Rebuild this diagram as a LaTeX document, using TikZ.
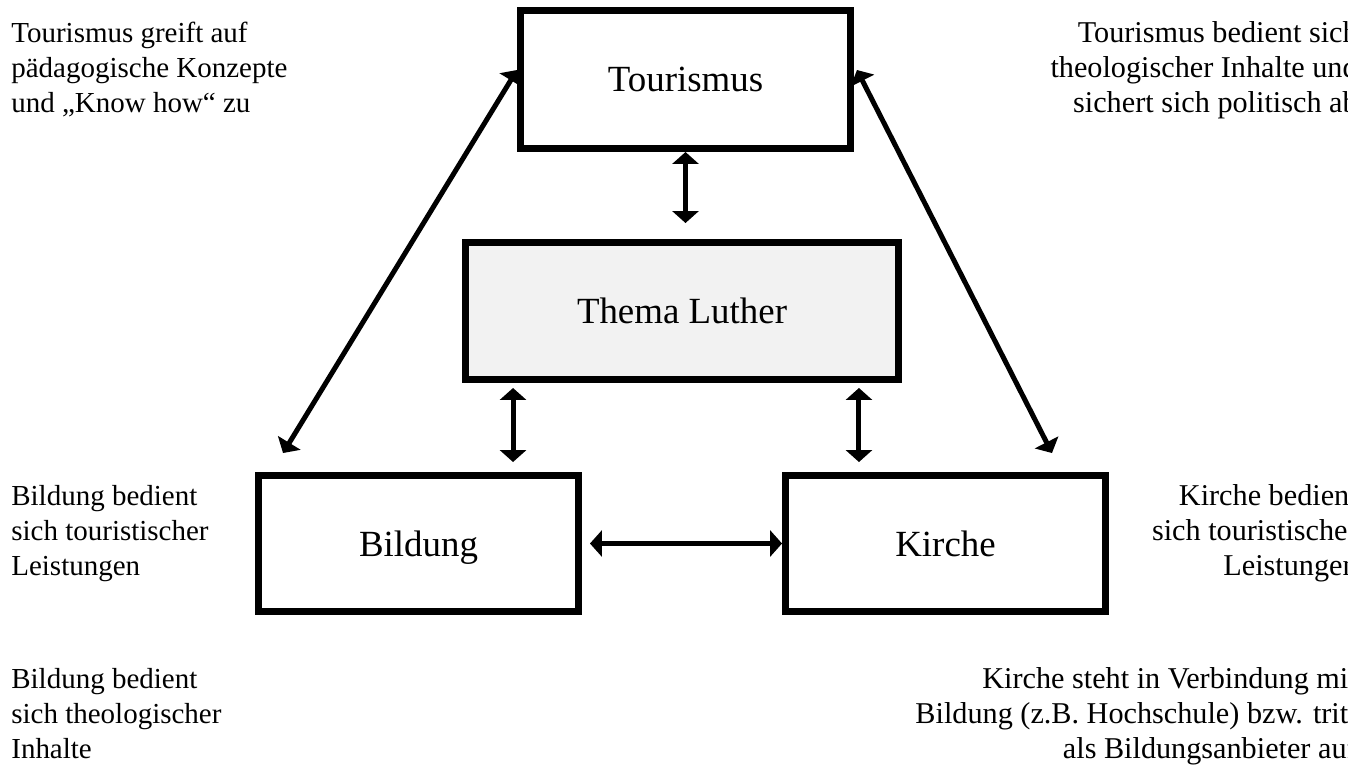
\documentclass[tikz,border=0pt]{standalone}
\usepackage{fontspec}
\setmainfont{Liberation Serif}
\usepackage{tikz}
\usetikzlibrary{arrows.meta,calc,positioning}

\begin{document}
\begin{tikzpicture}[x=0.02cm,y=-0.02cm,
  box/.style={draw,line width=0.14cm,inner sep=0pt,text depth=0pt,font=\fontsize{21}{25}\selectfont},
  note/.style={inner sep=0pt,font=\fontsize{16.5}{19.9}\selectfont},
  noteR/.style={note,align=right,anchor=base east,font=\fontsize{17.2}{19.9}\selectfont},
  link/.style={line width=0.1cm,{Triangle[length=6.8pt,width=14.8pt]}-{Triangle[length=6.8pt,width=14.8pt]}}]
  \useasboundingbox (0,0) rectangle (1348,765);
  \clip (0,0) rectangle (1348,765);
  % the four boxes
  \node[box,minimum width=6.6cm,minimum height=2.76cm] (tour) at (685.5,79.5) {Tourismus};
  \node[box,fill=black!5,minimum width=8.66cm,minimum height=2.74cm] (luther) at (682,311) {Thema Luther};
  \node[box,minimum width=6.4cm,minimum height=2.72cm] (bild) at (418.5,543.5) {Bildung};
  \node[box,minimum width=6.4cm,minimum height=2.72cm] (kirche) at (945.5,543.5) {Kirche};
  % side notes (base = last line)
  \node[note,align=left,anchor=base west] (tourL) at (11,112) {Tourismus greift auf\\pädagogische Konzepte\\und „Know how“ zu};
  \node[noteR] (tourR) at (1358,112) {Tourismus bedient sich\\theologischer Inhalte und\\sichert sich politisch ab};
  \node[note,align=left,anchor=base west] (bildL) at (11,575) {Bildung bedient\\sich touristischer\\Leistungen};
  \node[noteR] (kircheR) at (1358,575) {Kirche bedient\\sich touristischer\\Leistungen};
  \node[note,align=left,anchor=base west] (bildU) at (11,758) {Bildung bedient\\sich theologischer\\Inhalte};
  \node[noteR] (kircheU) at (1357,758) {Kirche steht in Verbindung mit\\Bildung (z.B. Hochschule) bzw. tritt\\als Bildungsanbieter auf};
  % connectors
  \coordinate (lutherL) at ([xshift=1.02cm]luther.south west);
  \coordinate (lutherR) at ([xshift=-0.86cm]luther.south east);
  \draw[link,shorten >=0.32cm] (tour.south) -- (tour.south |- luther.north);
  \draw[link,shorten <=0.1cm,shorten >=0.2cm] (lutherL) -- (lutherL |- bild.north);
  \draw[link,shorten <=0.1cm,shorten >=0.2cm] (lutherR) -- (lutherR |- kirche.north);
  \draw[link,shorten <=0.16cm] (bild.east) -- (kirche.west);
  \draw[link] ([yshift=0.19cm]tour.west) -- ([shift={(0.56cm,0.38cm)}]bild.north west);
  \draw[link] ([shift={(0.06cm,0.19cm)}]tour.east) -- ([shift={(-1.14cm,0.38cm)}]kirche.north east);
\end{tikzpicture}
\end{document}
